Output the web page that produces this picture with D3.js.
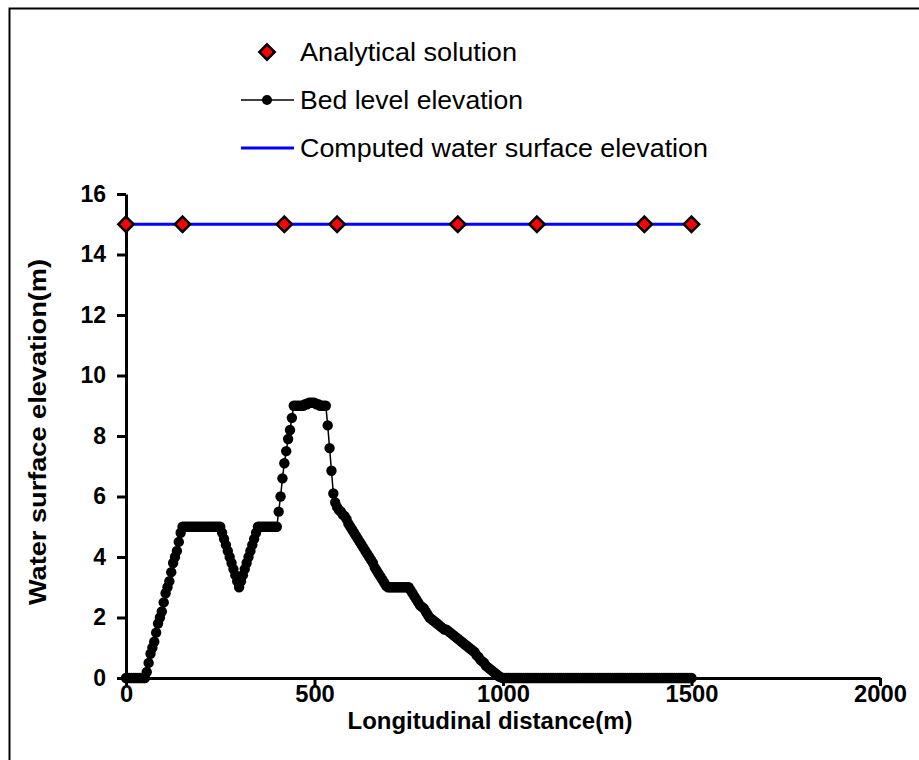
<!DOCTYPE html>
<html>
<head>
<meta charset="utf-8">
<script src="https://cdn.jsdelivr.net/npm/d3@7"></script>
<style>
  html, body { margin: 0; padding: 0; background: #fff; }
  svg { display: block; }
  text { font-family: "Liberation Sans", Arial, sans-serif; fill: #000; }
</style>
</head>
<body>
<svg id="chart" width="919" height="760"></svg>
<script>
// ---- Data ----
const xTicks = [0, 500, 1000, 1500, 2000];
const yTicks = [0, 2, 4, 6, 8, 10, 12, 14, 16];

// Analytical solution points
const analyticalX = [0, 150, 420, 560, 880, 1090, 1375, 1500];
const analyticalY = [15, 15, 15, 15, 15, 15, 15, 15];

// Computed water surface elevation
const waterX = [0, 1500];
const waterY = [15, 15];

// Bed level elevation, sampled every 5 m from 0 to 1500 m
const bedStep = 5;
const bedY = [
  0, 0, 0, 0, 0, 0, 0, 0, 0, 0,                       // 0-45
  0, 0.2, 0.5, 0.8, 1.0, 1.2, 1.5, 1.8, 2.0, 2.2,     // 50-95
  2.5, 2.8, 3.0, 3.2, 3.5, 3.8, 4.0, 4.2, 4.5, 4.8,   // 100-145
  5, 5, 5, 5, 5, 5, 5, 5, 5, 5,                       // 150-195
  5, 5, 5, 5, 5, 5, 5, 5, 5, 5,                       // 200-245
  5, 4.8, 4.6, 4.4, 4.2, 4.0, 3.8, 3.6, 3.4, 3.2,     // 250-295
  3.0, 3.2, 3.4, 3.6, 3.8, 4.0, 4.2, 4.4, 4.6, 4.8,   // 300-345
  5, 5, 5, 5, 5, 5, 5, 5, 5, 5,                       // 350-395
  5.0, 5.5, 6.0, 6.6, 7.1, 7.5, 7.9, 8.2, 8.6, 9.0,   // 400-445
  9.0, 9.0, 9.0, 9.0, 9.0, 9.05, 9.05, 9.1, 9.1, 9.1, // 450-495
  9.1, 9.05, 9.05, 9.0, 9.0, 9.0, 9.0, 8.35, 7.6, 6.85, // 500-545
  6.1, 5.8, 5.65, 5.55, 5.5, 5.4, 5.35, 5.25, 5.1, 5.0, // 550-595
  4.9, 4.8, 4.7, 4.6, 4.5, 4.4, 4.3, 4.2, 4.1, 4.0,   // 600-645
  3.9, 3.8, 3.65, 3.55, 3.45, 3.35, 3.25, 3.15, 3.05, 3.0, // 650-695
  3, 3, 3, 3, 3, 3, 3, 3, 3, 3,                       // 700-745
  3.0, 2.9, 2.8, 2.7, 2.6, 2.5, 2.4, 2.35, 2.3, 2.2,  // 750-795
  2.1, 2.0, 1.95, 1.9, 1.85, 1.8, 1.75, 1.7, 1.65, 1.6, // 800-845
  1.6, 1.55, 1.5, 1.45, 1.4, 1.35, 1.3, 1.25, 1.2, 1.15, // 850-895
  1.1, 1.05, 1.0, 0.95, 0.9, 0.85, 0.75, 0.7, 0.6, 0.55, // 900-945
  0.5, 0.4, 0.35, 0.3, 0.25, 0.2, 0.15, 0.1, 0.05, 0.02, // 950-995
  0, 0, 0, 0, 0, 0, 0, 0, 0, 0,                       // 1000-1045
  0, 0, 0, 0, 0, 0, 0, 0, 0, 0,                       // 1050-1095
  0, 0, 0, 0, 0, 0, 0, 0, 0, 0,                       // 1100-1145
  0, 0, 0, 0, 0, 0, 0, 0, 0, 0,                       // 1150-1195
  0, 0, 0, 0, 0, 0, 0, 0, 0, 0,                       // 1200-1245
  0, 0, 0, 0, 0, 0, 0, 0, 0, 0,                       // 1250-1295
  0, 0, 0, 0, 0, 0, 0, 0, 0, 0,                       // 1300-1345
  0, 0, 0, 0, 0, 0, 0, 0, 0, 0,                       // 1350-1395
  0, 0, 0, 0, 0, 0, 0, 0, 0, 0,                       // 1400-1445
  0, 0, 0, 0, 0, 0, 0, 0, 0, 0,                       // 1450-1495
  0                                                   // 1500
];
const bedX = bedY.map((_, i) => i * bedStep);

const legendLabels = ["Analytical solution", "Bed level elevation", "Computed water surface elevation"];
const xAxisTitle = "Longitudinal distance(m)";
const yAxisTitle = "Water surface elevation(m)";

// ---- Drawing ----
const svg = d3.select("#chart");

// outer frame
svg.append("rect")
  .attr("x", 9.5).attr("y", 8.5)
  .attr("width", 940).attr("height", 800)
  .attr("fill", "none").attr("stroke", "#000").attr("stroke-width", 2);

const plot = { left: 126, right: 880, top: 194, bottom: 678 };

const x = d3.scaleLinear().domain([0, 2000]).range([plot.left, plot.right]);
const y = d3.scaleLinear().domain([0, 16]).range([plot.bottom, plot.top]);

// Axes
const xAxis = d3.axisBottom(x).tickValues(xTicks).tickFormat(d3.format("d"))
  .tickSize(8).tickSizeOuter(0);
const yAxis = d3.axisLeft(y).tickValues(yTicks).tickFormat(d3.format("d"))
  .tickSize(9).tickSizeOuter(0).tickPadding(11);

const gx = svg.append("g").attr("transform", `translate(0,${plot.bottom})`).call(xAxis);
const gy = svg.append("g").attr("transform", `translate(${plot.left},0)`).call(yAxis);

[gx, gy].forEach(g => {
  g.select(".domain").attr("stroke", "#000").attr("stroke-width", 3);
  g.selectAll(".tick line").attr("stroke", "#000").attr("stroke-width", 3);
  g.selectAll(".tick text")
    .attr("font-family", "Liberation Sans, Arial, sans-serif")
    .attr("font-weight", "bold")
    .attr("font-size", 23)
    .attr("fill", "#000");
});
gx.selectAll(".tick text").attr("y", 24).attr("dy", 0)
  .attr("textLength", d => String(d).length * 13.2)
  .attr("lengthAdjust", "spacingAndGlyphs");

// Axis titles
svg.append("text")
  .attr("x", 490)
  .attr("y", 729)
  .attr("text-anchor", "middle")
  .attr("font-weight", "bold")
  .attr("font-size", 23)
  .attr("textLength", 285)
  .attr("lengthAdjust", "spacingAndGlyphs")
  .text(xAxisTitle);

svg.append("text")
  .attr("transform", `translate(46, ${432}) rotate(-90)`)
  .attr("text-anchor", "middle")
  .attr("font-weight", "bold")
  .attr("font-size", 23)
  .attr("textLength", 346)
  .attr("lengthAdjust", "spacingAndGlyphs")
  .text(yAxisTitle);

// Water surface line
const line = d3.line().x(d => x(d[0])).y(d => y(d[1]));
const waterData = waterX.map((v, i) => [v, waterY[i]]);
svg.append("path")
  .datum(waterData)
  .attr("d", line)
  .attr("fill", "none")
  .attr("stroke", "#0000ff")
  .attr("stroke-width", 3);

// Bed level line + dots
const bedData = bedX.map((v, i) => [v, bedY[i]]);
svg.append("path")
  .datum(bedData)
  .attr("d", line)
  .attr("fill", "none")
  .attr("stroke", "#000")
  .attr("stroke-width", 1.5);
svg.append("g").selectAll("circle")
  .data(bedData)
  .join("circle")
  .attr("cx", d => x(d[0]))
  .attr("cy", d => y(d[1]))
  .attr("r", 5.2)
  .attr("fill", "#000");

// Analytical diamonds
const diamond = d3.symbol().type(d3.symbolDiamond2).size(150);
const anaData = analyticalX.map((v, i) => [v, analyticalY[i]]);
svg.append("g").selectAll("path")
  .data(anaData)
  .join("path")
  .attr("d", diamond)
  .attr("transform", d => `translate(${x(d[0])},${y(d[1])})`)
  .attr("fill", "#ff0000")
  .attr("stroke", "#000")
  .attr("stroke-width", 2.5);

// Legend
const legend = svg.append("g");
const legY = [52, 100, 148];
const symX = 267;
legend.append("path")
  .attr("d", diamond)
  .attr("transform", `translate(${symX},${legY[0]})`)
  .attr("fill", "#ff0000").attr("stroke", "#000").attr("stroke-width", 2.5);
legend.append("line")
  .attr("x1", 241).attr("x2", 294).attr("y1", legY[1]).attr("y2", legY[1])
  .attr("stroke", "#000").attr("stroke-width", 1.5);
legend.append("circle").attr("cx", symX).attr("cy", legY[1]).attr("r", 5).attr("fill", "#000");
legend.append("line")
  .attr("x1", 241).attr("x2", 294).attr("y1", legY[2]).attr("y2", legY[2])
  .attr("stroke", "#0000ff").attr("stroke-width", 3);

const legWidths = [217, 223, 408];
legend.selectAll("text.leg")
  .data(legendLabels)
  .join("text")
  .attr("class", "leg")
  .attr("x", 300)
  .attr("y", (d, i) => legY[i] + 9)
  .attr("font-size", 25)
  .attr("textLength", (d, i) => legWidths[i])
  .attr("lengthAdjust", "spacingAndGlyphs")
  .text(d => d);
</script>
</body>
</html>
